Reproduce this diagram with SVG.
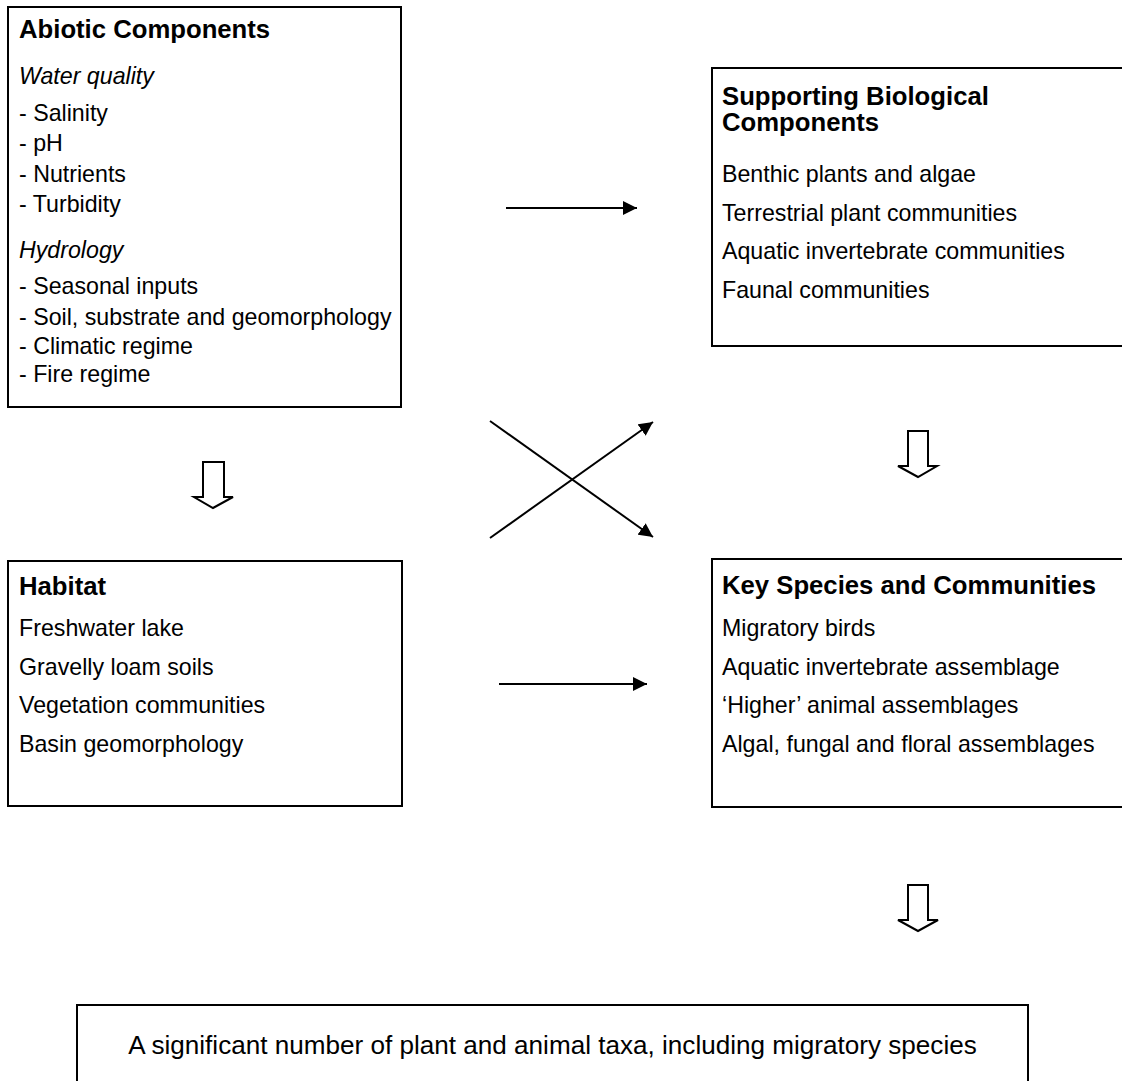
<svg xmlns="http://www.w3.org/2000/svg" width="1122" height="1081" viewBox="0 0 1122 1081">
<style>
.box{fill:#fff;stroke:#000;stroke-width:2}
.t{font-family:"Liberation Sans",Arial,sans-serif;font-size:23.2px;fill:#000}
.b{font-weight:bold;font-size:25.7px}
.i{font-style:italic}
.big{font-size:26.1px}
.ln{stroke:#000;stroke-width:2;fill:none}
.hollow{fill:#fff;stroke:#000;stroke-width:2;stroke-linejoin:miter}
</style>
<defs>
<marker id="ah" viewBox="0 0 10 10" refX="10" refY="5" markerWidth="7" markerHeight="7" markerUnits="strokeWidth" orient="auto">
<path d="M0,0 L10,5 L0,10 Z" fill="#000"/>
</marker>
</defs>
<rect width="1122" height="1081" fill="#fff"/>
<g id="abiotic">
<rect class="box" x="8" y="7" width="393" height="400"/>
<text class="t b" x="19" y="38">Abiotic Components</text>
<text class="t i" x="19" y="84">Water quality</text>
<text class="t" x="19" y="121">- Salinity</text>
<text class="t" x="19" y="151">- pH</text>
<text class="t" x="19" y="182">- Nutrients</text>
<text class="t" x="19" y="212">- Turbidity</text>
<text class="t i" x="19" y="258">Hydrology</text>
<text class="t" x="19" y="294">- Seasonal inputs</text>
<text class="t" x="19" y="325">- Soil, substrate and geomorphology</text>
<text class="t" x="19" y="354">- Climatic regime</text>
<text class="t" x="19" y="382">- Fire regime</text>
</g>
<g id="supporting">
<rect class="box" x="712" y="68" width="420" height="278"/>
<text class="t b" x="722" y="105">Supporting Biological</text>
<text class="t b" x="722" y="131">Components</text>
<text class="t" x="722" y="182">Benthic plants and algae</text>
<text class="t" x="722" y="221">Terrestrial plant communities</text>
<text class="t" x="722" y="259">Aquatic invertebrate communities</text>
<text class="t" x="722" y="298">Faunal communities</text>
</g>
<g id="habitat">
<rect class="box" x="8" y="561" width="394" height="245"/>
<text class="t b" x="19" y="595">Habitat</text>
<text class="t" x="19" y="636">Freshwater lake</text>
<text class="t" x="19" y="675">Gravelly loam soils</text>
<text class="t" x="19" y="713">Vegetation communities</text>
<text class="t" x="19" y="752">Basin geomorphology</text>
</g>
<g id="keyspecies">
<rect class="box" x="712" y="559" width="420" height="248"/>
<text class="t b" x="722" y="594">Key Species and Communities</text>
<text class="t" x="722" y="636">Migratory birds</text>
<text class="t" x="722" y="675">Aquatic invertebrate assemblage</text>
<text class="t" x="722" y="713">‘Higher’ animal assemblages</text>
<text class="t" x="722" y="752">Algal, fungal and floral assemblages</text>
</g>
<g id="outcome">
<rect class="box" x="77" y="1005" width="951" height="100"/>
<text class="t big" x="552.5" y="1054" text-anchor="middle">A significant number of plant and animal taxa, including migratory species</text>
</g>
<g id="connectors">
<line class="ln" x1="506" y1="208" x2="637" y2="208" marker-end="url(#ah)"/>
<line class="ln" x1="499" y1="684" x2="647" y2="684" marker-end="url(#ah)"/>
<line class="ln" x1="490" y1="421" x2="653" y2="537" marker-end="url(#ah)"/>
<line class="ln" x1="490" y1="538" x2="653" y2="422" marker-end="url(#ah)"/>
<path class="hollow" d="M203,462 L224,462 L224,497 L233,497 L213,508 L194,497 L203,497 Z"/>
<path class="hollow" d="M908,431 L928,431 L928,466 L937,466 L918,477 L898,466 L908,466 Z"/>
<path class="hollow" d="M908,885 L928,885 L928,920 L938,920 L918,931 L898,920 L908,920 Z"/>
</g>
</svg>
